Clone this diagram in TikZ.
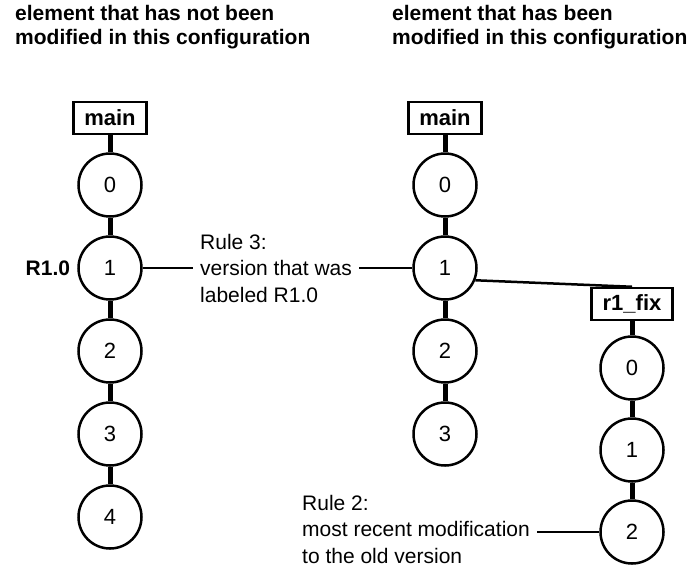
\documentclass[tikz,border=0pt]{standalone}
\usepackage{fontspec}
\setmainfont{Liberation Sans}
\usepackage{tikz}
\usetikzlibrary{positioning}

\begin{document}
\begin{tikzpicture}[x=1pt,y=-1pt,
  ver/.style={circle,draw,line width=2.5pt,minimum size=63pt,inner sep=0pt,
    font=\fontsize{22}{25}\selectfont},
  brbox/.style={draw,line width=2.5pt,minimum height=32pt,inner xsep=11pt,inner ysep=2pt,
    font=\fontsize{22}{25}\selectfont\bfseries},
  link/.style={line width=5pt},
  note/.style={align=left,inner xsep=7pt,inner ysep=0pt,font=\fontsize{21}{26.5}\selectfont},
  head/.style={anchor=north west,align=left,inner sep=0pt,
    font=\fontsize{21}{24}\selectfont\bfseries}]
  \useasboundingbox (0,0) rectangle (692,568);
  % headings
  \node[head] (hleft) at (15,5) {element that has not been\\modified in this configuration};
  \node[head] (hright) at (392,5) {element that has been\\modified in this configuration};
  % left element
  \node[brbox] (lmain) at (110,118) {main};
  \foreach \i/\y in {0/185,1/268,2/351,3/434,4/517}
    \node[ver] (l\i) at (110,\y) {\i};
  \draw[link] (lmain) -- (l0);
  \foreach \a/\b in {0/1,1/2,2/3,3/4}
    \draw[link] (l\a) -- (l\b);
  \node[left=6pt of l1,inner sep=1pt,font=\fontsize{21}{25}\selectfont\bfseries] (lab) {R1.0};
  % right element
  \node[brbox] (mmain) at (445,118) {main};
  \foreach \i/\y in {0/185,1/268,2/351,3/434}
    \node[ver] (m\i) at (445,\y) {\i};
  \draw[link] (mmain) -- (m0);
  \foreach \a/\b in {0/1,1/2,2/3}
    \draw[link] (m\a) -- (m\b);
  % branch
  \node[brbox] (fix) at (632,304) {r1\_fix};
  \foreach \i/\y in {0/368,1/450,2/532}
    \node[ver] (f\i) at (632,\y) {\i};
  \draw[link] (fix) -- (f0);
  \foreach \a/\b in {0/1,1/2}
    \draw[link] (f\a) -- (f\b);
  \draw[line width=2.5pt] (m1.-22) -- (fix.north);
  % rules
  \node[note,anchor=west] (rule3) at (193,268) {Rule 3:\\version that was\\labeled R1.0};
  \draw[line width=2pt] (l1.east) -- (rule3.west);
  \draw[line width=2pt] (rule3.east) -- (m1.west);
  \node[note,anchor=east] (rule2) at (537,529) {Rule 2:\\most recent modification\\to the old version};
  \draw[line width=2pt] (rule2.east |- f2.west) -- (f2.west);
\end{tikzpicture}
\end{document}
